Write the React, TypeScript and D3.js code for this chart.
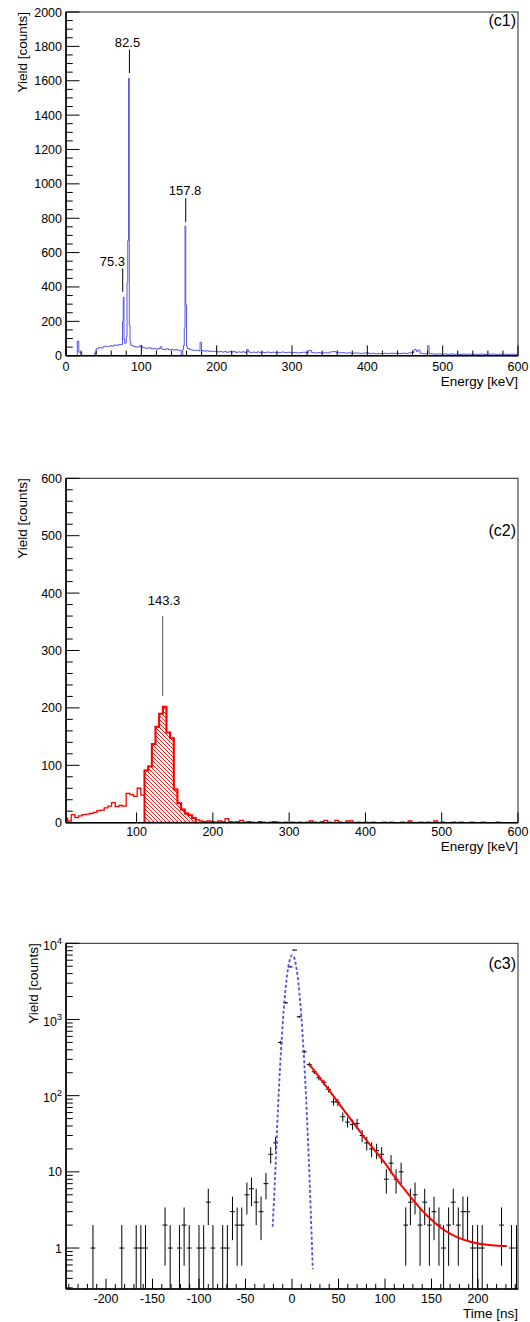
import React from 'react';
import * as d3 from 'd3';

const FONT = "'Liberation Sans', Arial, Helvetica, sans-serif";
const L = 66;
const R = 518;

// ---------- Panel c1: Energy spectrum (blue) ----------
const c1Edges = [
  0, 15, 17, 21, 38, 40, 43, 46, 49, 52, 55, 58, 61, 64, 67, 70, 73, 75,
  76, 77, 78, 79, 80, 81, 82, 83, 84, 85, 86,
  89, 92, 95, 98, 101, 104, 107, 110, 113, 116, 119, 122, 125, 127, 130, 133, 136, 139, 142, 145, 148, 151, 153, 155,
  156, 157, 158, 159, 160, 161, 164, 167, 170, 173, 176, 178, 180,
  183, 186, 189, 192, 195, 198, 201, 204, 207, 210, 213, 216, 219, 222, 225, 228, 231, 234, 237, 240,
  242, 245, 248, 251, 254, 257, 260, 263, 266,
  270, 274, 278, 282, 286, 290, 294, 298, 302, 306, 310, 314, 318, 322, 326, 330, 334, 338, 342, 346,
  350, 354, 358, 362, 366, 370, 374, 378, 382, 386, 390, 394, 398, 402, 406, 410, 414, 418, 422, 426,
  430, 434, 438, 442, 446, 450, 454, 458, 462,
  465, 467, 470, 474, 478, 480, 482, 486, 490, 494, 498, 502, 506, 510, 514, 518, 522, 526, 530, 534,
  538, 542, 546, 550, 554, 558, 562, 566, 570, 574, 578, 582, 586, 590, 594, 598, 600,
];
const c1Counts = [
  0, 85, 20, 0, 15, 40, 48, 45, 52, 55, 53, 58, 56, 62, 60, 66, 64,
  200, 340, 95, 70, 75, 110, 425, 670, 1615, 180, 80,
  60, 55, 50, 52, 58, 48, 45, 43, 46, 40, 42, 38, 41, 52, 38, 36, 40, 34, 37, 33, 35, 32, 30, 3,
  35, 60, 160, 755, 295, 55, 42, 35, 33, 30, 32, 28, 78,
  30, 26, 29, 25, 27, 24, 26, 22, 25, 21, 24, 20, 23, 21, 25, 19, 22, 20, 23, 19,
  36, 22, 18, 21, 19, 22, 17, 20, 18,
  21, 18, 20, 17, 19, 21, 18, 20, 17, 19, 16, 18, 20, 17, 30, 18, 16, 18, 15, 17,
  16, 22, 24, 20, 16, 18, 15, 17, 14, 16, 15, 13, 15, 17, 12, 14, 11, 13, 12, 14,
  12, 15, 13, 14, 12, 15, 13, 16, 18,
  36, 24, 32, 14, 11, 12, 58, 12, 10, 9, 11, 9, 10, 8, 10, 8, 9, 7, 10, 8,
  9, 7, 9, 8, 10, 7, 9, 8, 10, 7, 9, 8, 9, 7, 9, 8, 8,
];
const c1PeakLabels = ['75.3', '82.5', '157.8'];
const c1PeakTextE = [61.5, 81.6, 158.0];
const c1PeakTextY = [524, 1795, 937];
const c1PeakLineE = [75.3, 84.2, 158.9];
const c1PeakLineTop = [508, 1781, 917];
const c1PeakLineBot = [372, 1645, 777];
const c1XMajor = [0, 100, 200, 300, 400, 500, 600];
const c1XLabels = ['0', '100', '200', '300', '400', '500', '600'];
const c1YMajor = [0, 200, 400, 600, 800, 1000, 1200, 1400, 1600, 1800, 2000];
const c1YLabels = ['0', '200', '400', '600', '800', '1000', '1200', '1400', '1600', '1800', '2000'];

// ---------- Panel c2: gated energy spectrum (red) ----------
const c2BinWidth = 4.8;
const c2FirstBin = 1; // first bin index: [4.8, 9.6]
const c2Counts = [
  8, 3, 14, 9, 12, 14, 15, 16, 18, 21, 22, 26, 29, 35, 28, 30, 29, 51, 49, 46, 60, 48,
  91, 98, 137, 167, 190, 202, 157, 147, 58, 34, 23, 16, 13, 8,
  5, 3, 2, 3, 2, 1, 3, 2, 7, 2, 1, 2, 4, 1, 2, 1, 0, 2, 1, 0, 1, 2, 1, 0,
  1, 0, 1, 0, 1, 0, 1, 3, 1, 0, 2, 4, 1, 0, 4, 1, 0, 3, 3, 0, 1, 0, 1, 0,
  1, 0, 0, 1, 0, 1, 0, 0, 1, 0, 3, 0, 0, 1, 0, 1, 0, 3, 0, 1, 0, 0, 1, 0,
  1, 0, 0, 1, 0, 0, 1, 0, 0, 0, 1, 0, 0, 0, 0, 0,
];
const c2GateLo = 110.4;
const c2GateHi = 177.6;
const c2PeakLabel = '143.3';
const c2PeakTextE = 136;
const c2PeakTextY = 380;
const c2PeakLineE = 134.2;
const c2PeakLineTop = 360;
const c2PeakLineBot = 221;
const c2XMajor = [100, 200, 300, 400, 500, 600];
const c2XLabels = ['100', '200', '300', '400', '500', '600'];
const c2YMajor = [0, 100, 200, 300, 400, 500, 600];
const c2YLabels = ['0', '100', '200', '300', '400', '500', '600'];

// ---------- Panel c3: time spectrum ----------
const c3Time = [
  -214, -183, -167.5, -162.5, -157.5, -136.5, -131, -121, -116, -110.5, -100, -95, -90, -85, -74.5, -69.5,
  -64, -59, -54, -48.5, -43.5, -38.5, -33.3, -28, -22.9, -17.6, -12.5, -6.8, -1.8, 2.8, 7.8, 13.2,
  18.6, 23.9, 28.9, 34.3, 39.3, 44.6, 49.3, 54.6, 59.7, 65, 70, 75.4, 80.4, 85.6, 91, 96.4,
  101.4, 106.5, 111.9, 117.3, 122.3, 127.3, 132.3, 137.7, 142.7, 147.7, 152.7, 158, 163, 168.4,
  173.4, 178.8, 183.8, 188.8, 194.2, 199.6, 204.5, 225.3, 236, 241.4,
];
const c3Counts = [
  1, 1, 1, 1, 1, 2, 1, 1, 2, 1, 1, 1, 4, 1, 1, 1,
  3, 2, 2, 5, 6, 4, 3, 7, 17, 24, 500, 1660, 4900, 8150, 1085, 377,
  257, 206, 172, 150, 121, 83, 82, 53, 45, 42, 43, 30, 24, 20, 19, 17,
  8, 13, 8, 10, 2, 4, 5, 2, 4, 2, 3, 2, 1, 2,
  4, 2, 3, 3, 1, 1, 1, 2, 1, 1,
];
const c3HalfBin = 2.6;
const c3PromptT = [-20.8, -18, -16, -14, -12, -10, -8, -6, -4, -2, 0.3, 2, 4, 6, 8, 10, 12, 14, 16, 18, 20, 22.3];
const c3PromptY = [1.9, 9.8, 38, 127, 360, 874, 1815, 3215, 4870, 6310, 7000, 6615, 5353, 3700, 2188, 1107, 478, 176, 55.7, 15, 3.5, 0.53];
const c3DecayT = [18.6, 30, 40, 50, 60, 70, 80, 90, 100, 110, 120, 130, 140, 150, 160, 170, 180, 190, 200, 215, 231];
const c3DecayY = [257, 170, 117, 80, 55, 38, 26, 18.5, 13, 8.7, 6.1, 4.3, 3.1, 2.35, 1.85, 1.55, 1.35, 1.23, 1.15, 1.09, 1.06];
const c3XMajor = [-200, -150, -100, -50, 0, 50, 100, 150, 200];
const c3XLabels = ['-200', '-150', '-100', '-50', '0', '50', '100', '150', '200'];
const c3YMajor = [1, 10, 100, 1000, 10000];
const c3YBase = ['1', '10', '10', '10', '10'];
const c3YExp = ['', '', '2', '3', '4'];

// ---------- layout ----------
const P1 = { top: 12, bottom: 355.7 };
const P2 = { top: 478.3, bottom: 822.7 };
const P3 = { top: 943.3, bottom: 1289 };

function stepPath(edges: number[], counts: number[], x: any, y: any) {
  const n = Math.min(counts.length, edges.length - 1);
  let p = `M${x(edges[0])},${y(counts[0])}`;
  for (let i = 0; i < n; i++) {
    if (i > 0) p += `V${y(counts[i])}`;
    p += `H${x(edges[i + 1])}`;
  }
  return p;
}

function Frame(props: {
  top: number; bottom: number; x: any; y: any;
  xMajor: number[]; xMinor: number[]; yMajor: number[]; yMinor: number[];
}) {
  const { top, bottom, x, y, xMajor, xMinor, yMajor, yMinor } = props;
  const xl = 10.3, yl = 13.5;
  return (
    <g>
      <rect x={L} y={top} width={R - L} height={bottom - top} fill="none" stroke="#222" strokeWidth={1} />
      {xMajor.map((v, i) => (
        <line key={'xM' + i} x1={x(v)} x2={x(v)} y1={bottom} y2={bottom - xl} stroke="#000" strokeWidth={1} />
      ))}
      {xMinor.map((v, i) => (
        <line key={'xm' + i} x1={x(v)} x2={x(v)} y1={bottom} y2={bottom - xl / 2} stroke="#000" strokeWidth={1} />
      ))}
      {yMajor.map((v, i) => (
        <line key={'yM' + i} x1={L} x2={L + yl} y1={y(v)} y2={y(v)} stroke="#000" strokeWidth={1} />
      ))}
      {yMinor.map((v, i) => (
        <line key={'ym' + i} x1={L} x2={L + yl / 2} y1={y(v)} y2={y(v)} stroke="#000" strokeWidth={1} />
      ))}
      <line x1={L} x2={L} y1={top} y2={bottom} stroke="#000" strokeWidth={1.6} />
      <line x1={L} x2={R} y1={bottom} y2={bottom} stroke="#000" strokeWidth={1.6} />
    </g>
  );
}

export default function App() {
  // scales
  const x1 = d3.scaleLinear().domain([0, 600]).range([L, R]);
  const y1 = d3.scaleLinear().domain([0, 2000]).range([P1.bottom, P1.top]);
  const x2 = d3.scaleLinear().domain([7.5, 600]).range([L, R]);
  const y2 = d3.scaleLinear().domain([0, 600]).range([P2.bottom, P2.top]);
  const x3 = d3.scaleLinear().domain([-243, 243]).range([L, R]);
  const y3 = d3.scaleLog().domain([0.29, 10000]).range([P3.bottom, P3.top]);

  // minor ticks
  const c1XMinor = d3.range(0, 601, 20).filter((v) => v % 100 !== 0);
  const c1YMinor = d3.range(0, 2001, 50).filter((v) => v % 200 !== 0);
  const c2YMinor = d3.range(0, 601, 20).filter((v) => v % 100 !== 0);
  const c3XMinor = d3.range(-240, 241, 10).filter((v) => v % 50 !== 0);
  const c3YMinor: number[] = [];
  [0.1, 1, 10, 100, 1000].forEach((d) => {
    for (let k = 2; k <= 9; k++) {
      const v = d * k;
      if (v >= 0.29 && v < 10000) c3YMinor.push(v);
    }
  });

  // panel 1 path
  const p1 = stepPath(c1Edges, c1Counts, x1, y1);

  // panel 2 paths
  const c2Edges = d3.range(c2FirstBin, c2FirstBin + c2Counts.length + 1).map((i) => +(i * c2BinWidth).toFixed(2));
  const p2 = stepPath(c2Edges, c2Counts, x2, y2);
  let gate = `M${x2(c2GateLo)},${y2(0)}`;
  for (let i = 0; i < c2Counts.length; i++) {
    const lo = c2Edges[i], hi = c2Edges[i + 1];
    if (lo >= c2GateLo - 0.01 && hi <= c2GateHi + 0.01) {
      gate += `V${y2(c2Counts[i])}H${x2(hi)}`;
    }
  }
  gate += `V${y2(0)}Z`;

  // panel 3 curves
  const lineGen = d3
    .line<[number, number]>()
    .x((d) => x3(d[0]))
    .y((d) => y3(d[1]))
    .curve(d3.curveMonotoneX);
  const prompt = lineGen(c3PromptT.map((t, i) => [t, c3PromptY[i]] as [number, number])) || '';
  const decay = lineGen(c3DecayT.map((t, i) => [t, c3DecayY[i]] as [number, number])) || '';

  const tickFs = 12.5;
  const titleFs = 13.5;

  return (
    <svg
      width={530}
      height={1322}
      style={{ position: 'absolute', left: 0, top: 0, background: '#fff' }}
      fontFamily={FONT}
    >
      <defs>
        <clipPath id="cp1"><rect x={L} y={P1.top} width={R - L} height={P1.bottom - P1.top} /></clipPath>
        <clipPath id="cp2"><rect x={L} y={P2.top} width={R - L} height={P2.bottom - P2.top} /></clipPath>
        <clipPath id="cp3"><rect x={L} y={P3.top} width={R - L} height={P3.bottom - P3.top} /></clipPath>
        <pattern id="hatch" patternUnits="userSpaceOnUse" width={4} height={4}>
          <path d="M-1,-1 L5,5 M-1,3 L1,5 M3,-1 L5,1" stroke="#ff0000" strokeWidth={0.9} />
        </pattern>
      </defs>
      <rect x={0} y={0} width={530} height={1322} fill="#fff" />

      {/* ================= Panel c1 ================= */}
      <g clipPath="url(#cp1)">
        <path d={p1} fill="none" stroke="#5656e0" strokeWidth={1} />
      </g>
      <Frame top={P1.top} bottom={P1.bottom} x={x1} y={y1} xMajor={c1XMajor} xMinor={c1XMinor} yMajor={c1YMajor} yMinor={c1YMinor} />
      {c1PeakLabels.map((lab, i) => (
        <g key={'pk' + i}>
          <line x1={x1(c1PeakLineE[i])} x2={x1(c1PeakLineE[i])} y1={y1(c1PeakLineTop[i])} y2={y1(c1PeakLineBot[i])} stroke="#000" strokeWidth={1} />
          <text x={x1(c1PeakTextE[i])} y={y1(c1PeakTextY[i])} fontSize={13} textAnchor="middle" fill="#000">{lab}</text>
        </g>
      ))}
      {c1YMajor.map((v, i) => (
        <text key={'y1l' + i} x={62} y={y1(v) + 4.5} fontSize={tickFs} textAnchor="end">{c1YLabels[i]}</text>
      ))}
      {c1XMajor.map((v, i) => (
        <text key={'x1l' + i} x={x1(v)} y={370.5} fontSize={tickFs} textAnchor="middle">{c1XLabels[i]}</text>
      ))}
      <text x={R} y={385.5} fontSize={titleFs} textAnchor="end">Energy [keV]</text>
      <text transform={`translate(26.5,${P1.top}) rotate(-90)`} fontSize={titleFs} textAnchor="end">Yield [counts]</text>
      <text x={516} y={26} fontSize={16} textAnchor="end">(c1)</text>

      {/* ================= Panel c2 ================= */}
      <g clipPath="url(#cp2)">
        <path d={gate} fill="url(#hatch)" stroke="none" />
        <path d={p2} fill="none" stroke="#ff0000" strokeWidth={1.3} />
        <path d={gate} fill="none" stroke="#ff0000" strokeWidth={2} />
      </g>
      <Frame top={P2.top} bottom={P2.bottom} x={x2} y={y2} xMajor={c2XMajor} xMinor={[]} yMajor={c2YMajor} yMinor={c2YMinor} />
      <line x1={x2(c2PeakLineE)} x2={x2(c2PeakLineE)} y1={y2(c2PeakLineTop)} y2={y2(c2PeakLineBot)} stroke="#555" strokeWidth={1} />
      <text x={x2(c2PeakTextE)} y={y2(c2PeakTextY)} fontSize={13} textAnchor="middle">{c2PeakLabel}</text>
      {c2YMajor.map((v, i) => (
        <text key={'y2l' + i} x={62} y={y2(v) + 4.5} fontSize={tickFs} textAnchor="end">{c2YLabels[i]}</text>
      ))}
      {c2XMajor.map((v, i) => (
        <text key={'x2l' + i} x={x2(v)} y={835.5} fontSize={tickFs} textAnchor="middle">{c2XLabels[i]}</text>
      ))}
      <text x={R} y={850.5} fontSize={titleFs} textAnchor="end">Energy [keV]</text>
      <text transform={`translate(26.5,${P2.top}) rotate(-90)`} fontSize={titleFs} textAnchor="end">Yield [counts]</text>
      <text x={516} y={536} fontSize={16} textAnchor="end">(c2)</text>

      {/* ================= Panel c3 ================= */}
      <g clipPath="url(#cp3)">
        {c3Time.map((t, i) => {
          const n = c3Counts[i];
          const e = Math.sqrt(n);
          const lo = Math.max(n - e, 0.01);
          return (
            <g key={'pt' + i} stroke="#000" strokeWidth={1}>
              <line x1={x3(t - c3HalfBin)} x2={x3(t + c3HalfBin)} y1={y3(n)} y2={y3(n)} />
              <line x1={x3(t)} x2={x3(t)} y1={y3(n + e)} y2={y3(lo)} />
            </g>
          );
        })}
        <path d={prompt} fill="none" stroke="#5050e6" strokeWidth={1.8} strokeDasharray="3,2.2" />
        <path d={decay} fill="none" stroke="#ff0000" strokeWidth={2} />
      </g>
      <Frame top={P3.top} bottom={P3.bottom} x={x3} y={y3} xMajor={c3XMajor} xMinor={c3XMinor} yMajor={c3YMajor} yMinor={c3YMinor} />
      {c3YMajor.map((v, i) => (
        <text key={'y3l' + i} x={62} y={y3(v) + (c3YExp[i] ? 6.5 : 4.5)} fontSize={tickFs} textAnchor="end">
          {c3YBase[i]}
          {c3YExp[i] ? (
            <tspan dy={-6} fontSize={9}>{c3YExp[i]}</tspan>
          ) : null}
        </text>
      ))}
      {c3XMajor.map((v, i) => (
        <text key={'x3l' + i} x={x3(v)} y={1302.5} fontSize={tickFs} textAnchor="middle">{c3XLabels[i]}</text>
      ))}
      <text x={R} y={1317.8} fontSize={titleFs} textAnchor="end">Time [ns]</text>
      <text transform={`translate(38.3,${P3.top}) rotate(-90)`} fontSize={titleFs} textAnchor="end">Yield [counts]</text>
      <text x={516} y={969} fontSize={16} textAnchor="end">(c3)</text>
    </svg>
  );
}
